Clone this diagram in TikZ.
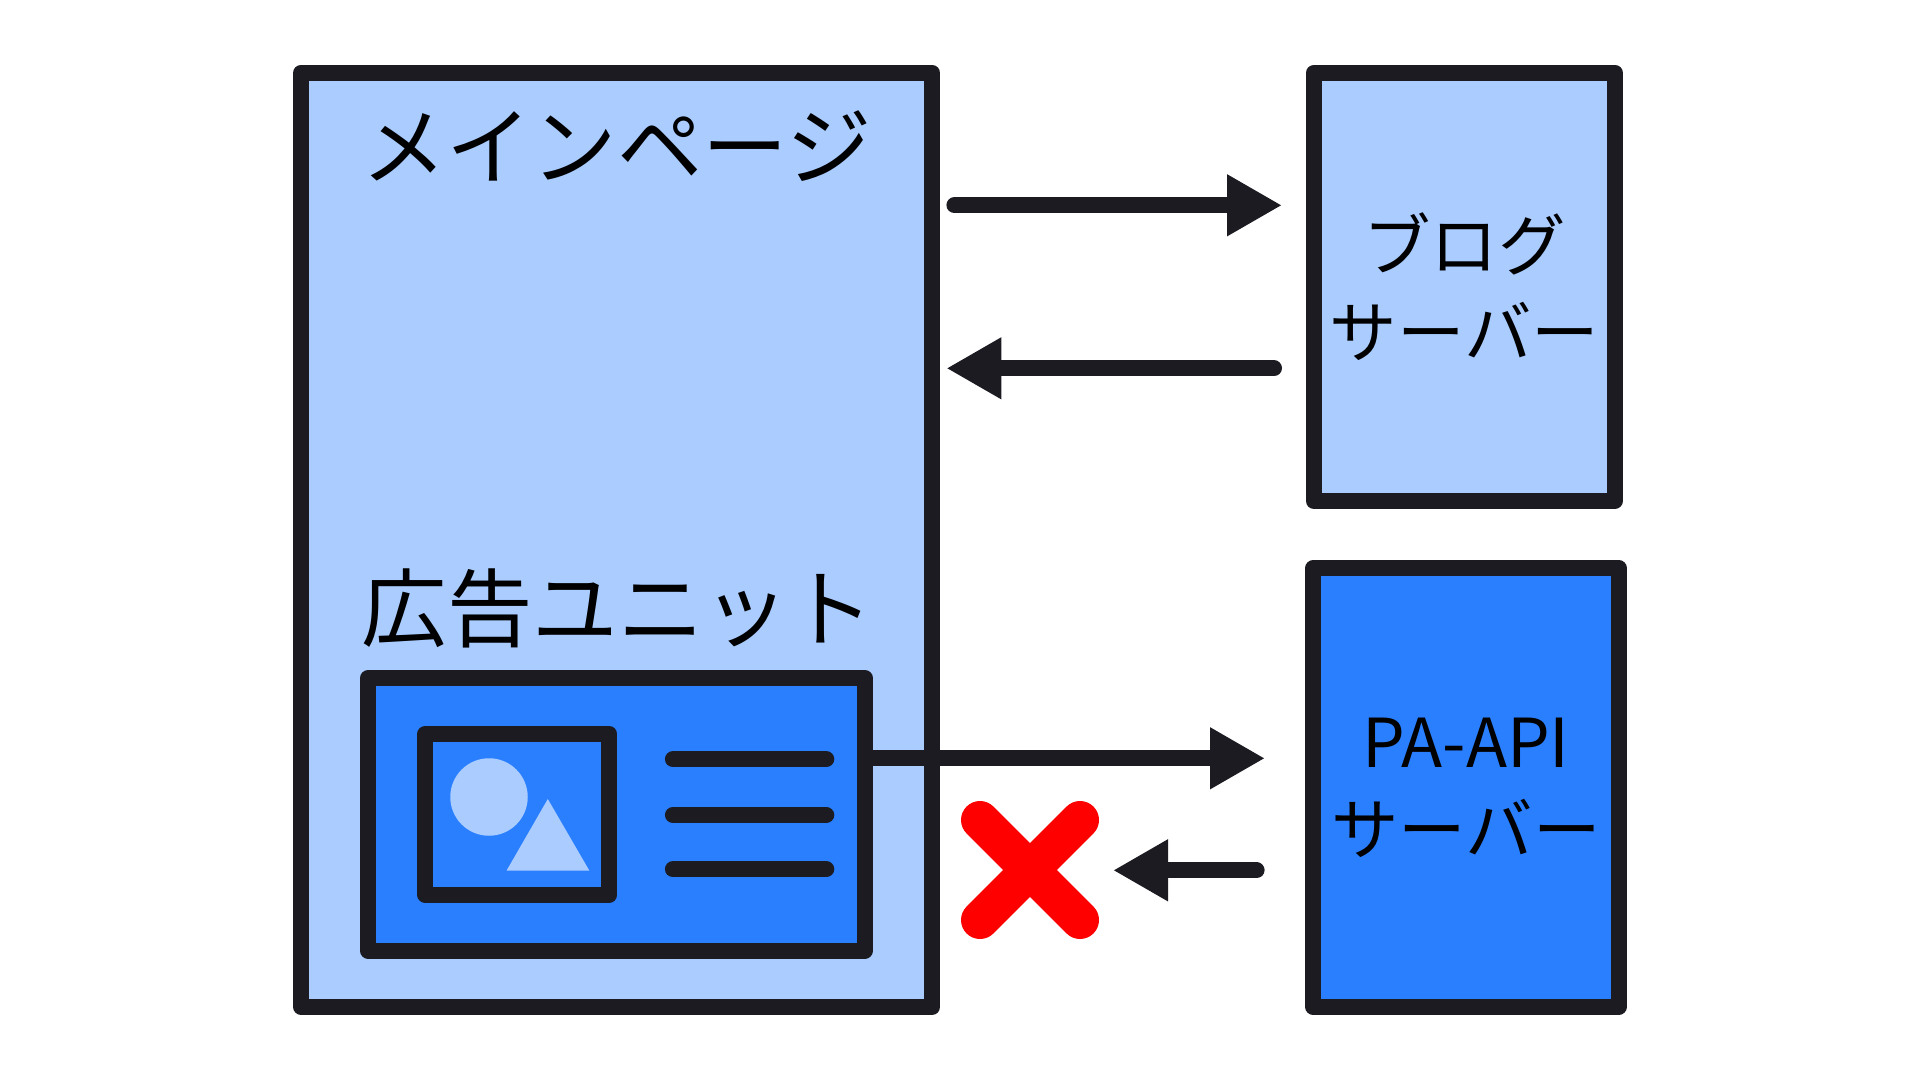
\documentclass[tikz,border=0pt]{standalone}
\usepackage{fontspec}
\setmainfont{Noto Sans CJK JP}
\usetikzlibrary{arrows.meta}
\definecolor{inkcolor}{HTML}{1C1B22}
\definecolor{palecolor}{HTML}{AACCFF}
\definecolor{bluecolor}{HTML}{2A7FFF}
\newcommand{\bigFmt}{\fontsize{24.3}{28}\selectfont}
\newcommand{\smallFmt}{\fontsize{19.2}{24.7}\selectfont}
\begin{document}
\begin{tikzpicture}[
			panel/.style={rectangle, draw=inkcolor, line width=1.6mm, line join=round, inner sep=0pt, align=center},
			flow/.style={draw=inkcolor, line width=1.6mm, line cap=round, -{Triangle[length=5.5mm, width=5.8mm]}},
			bar/.style={draw=inkcolor, line width=1.6mm, line cap=round},
			cross/.style={draw=red, line width=3.8mm, line cap=round},
		]

		\useasboundingbox (0,0) rectangle (19.2,-10.8);

		\node[panel, fill=palecolor, minimum width=6.308cm, minimum height=9.343cm] (main) at (6.166,-5.3985) {};
		\node[panel, fill=palecolor, font=\smallFmt, minimum width=3.008cm, minimum height=4.283cm] (blog) at (14.644,-2.8685) {ブログ\\サーバー};
		\node[panel, fill=bluecolor, font=\smallFmt, minimum width=3.051cm, minimum height=4.39cm] (paapi) at (14.66,-7.875) {PA-API\\サーバー};
		\node[panel, fill=bluecolor, minimum width=4.963cm, minimum height=2.73cm] (adunit) at (6.1645,-8.143) {};
		\node[panel, fill=bluecolor, minimum width=1.841cm, minimum height=1.607cm] (adimage) at (5.1735,-8.1435) {};

		\node[inner sep=0pt, font=\bigFmt] (maintitle) at (6.165,-1.46) {メインページ};
		\node[inner sep=0pt, font=\bigFmt] (adtitle) at (6.18,-6.08) {広告ユニット};

		\node[circle, fill=palecolor, inner sep=0pt, minimum size=7.75mm] (sun) at (4.89,-7.97) {};
		\fill[palecolor] (5.478,-7.99) -- (5.065,-8.707) -- (5.894,-8.707) -- cycle;

		\foreach \y in {-7.593,-8.15,-8.693}
			\draw[bar] (6.729,\y) -- (8.263,\y);

		\coordinate (blogout) at (9.544,-2.053);
		\coordinate (blogin) at (12.82,-2.053);
		\coordinate (backout) at (12.74,-3.683);
		\coordinate (backin) at (9.464,-3.683);
		\coordinate (apiin) at (12.65,-7.583);
		\coordinate (apiout) at (12.566,-8.703);
		\coordinate (apiback) at (11.13,-8.703);

		\draw[flow] (blogout) -- (blogin);
		\draw[flow] (backout) -- (backin);
		\draw[flow] (adunit.east |- apiin) -- (apiin);
		\draw[flow] (apiout) -- (apiback);

		\draw[cross] (9.8,-8.2) -- (10.8,-9.2);
		\draw[cross] (9.8,-9.2) -- (10.8,-8.2);

		\end{tikzpicture}
\end{document}
